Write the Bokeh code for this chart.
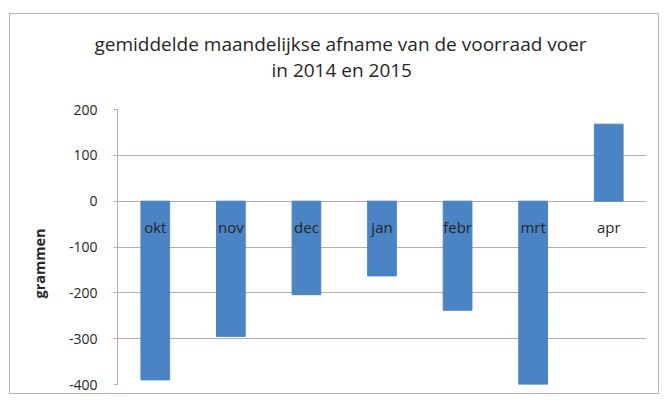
import math
from bokeh.plotting import figure
from bokeh.models import Range1d, FixedTicker, Title
from bokeh.core.properties import value
from bokeh.embed import file_html
from bokeh.resources import INLINE

# ---- data ----
months = ["okt", "nov", "dec", "jan", "febr", "mrt", "apr"]
values = [-390, -295, -204, -163, -238, -400, 168]
y_ticks = [-400, -300, -200, -100, 0, 100, 200]
y_tick_labels = ["-400", "-300", "-200", "-100", "0", "100", "200"]
title_lines = ["gemiddelde maandelijkse afname van de voorraad voer", "in 2014 en 2015"]
y_label = "grammen"
baseline = [0] * len(months)

GRID = "#b9aca8"
TEXT = "#262626"
BAR = "#4a84c4"

p = figure(
    x_range=months, y_range=Range1d(-400, 200),
    width=650, height=381,
    output_backend="svg", toolbar_location=None,
    min_border_left=105, min_border_right=14,
    min_border_top=95, min_border_bottom=11,
    margin=(13, 0, 0, 9),
    styles={"border": "1px solid #bfb3af"},
)
p.background_fill_color = "white"
p.border_fill_color = "white"
p.outline_line_color = None

p.vbar(x=months, top=values, width=0.38, color=BAR)

p.text(x=months, y=baseline, text=months, text_align="center",
       text_baseline="alphabetic", y_offset=26,
       text_font=value("Open Sans"), text_font_size="15px", text_color=TEXT)

p.xaxis.visible = False
p.xgrid.visible = False

ticker = FixedTicker(ticks=y_ticks)
p.yaxis.ticker = ticker
p.ygrid.ticker = ticker
p.ygrid.grid_line_color = GRID
p.yaxis.major_label_overrides = dict(zip(y_ticks, y_tick_labels))
p.yaxis.major_label_text_font = "Open Sans"
p.yaxis.major_label_text_font_size = "14px"
p.yaxis.major_label_text_color = TEXT
p.yaxis.axis_line_color = GRID
p.yaxis.major_tick_line_color = GRID
p.yaxis.major_tick_out = 4
p.yaxis.major_tick_in = 0
p.yaxis.minor_tick_line_color = None
p.yaxis.major_label_standoff = 16

# y-axis label as a side title (positioned along the axis with offset)
p.add_layout(Title(text=y_label, align="left", offset=86, standoff=34,
                   text_font="Open Sans", text_font_size="14.5px",
                   text_font_style="bold", text_color=TEXT), "left")

# title block, stacked outward from the plot frame
p.add_layout(Title(text=" ", standoff=25, text_font_size="1px"), "above")
p.add_layout(Title(text=title_lines[1], align="left", offset=154, standoff=-2,
                   text_font="Open Sans", text_font_size="19px",
                   text_font_style="normal", text_color=TEXT), "above")
p.add_layout(Title(text=title_lines[0], align="left", offset=-23, standoff=-3.6,
                   text_font="Open Sans", text_font_size="19px",
                   text_font_style="normal", text_color=TEXT), "above")

open("out.html", "w").write(file_html(p, INLINE))
